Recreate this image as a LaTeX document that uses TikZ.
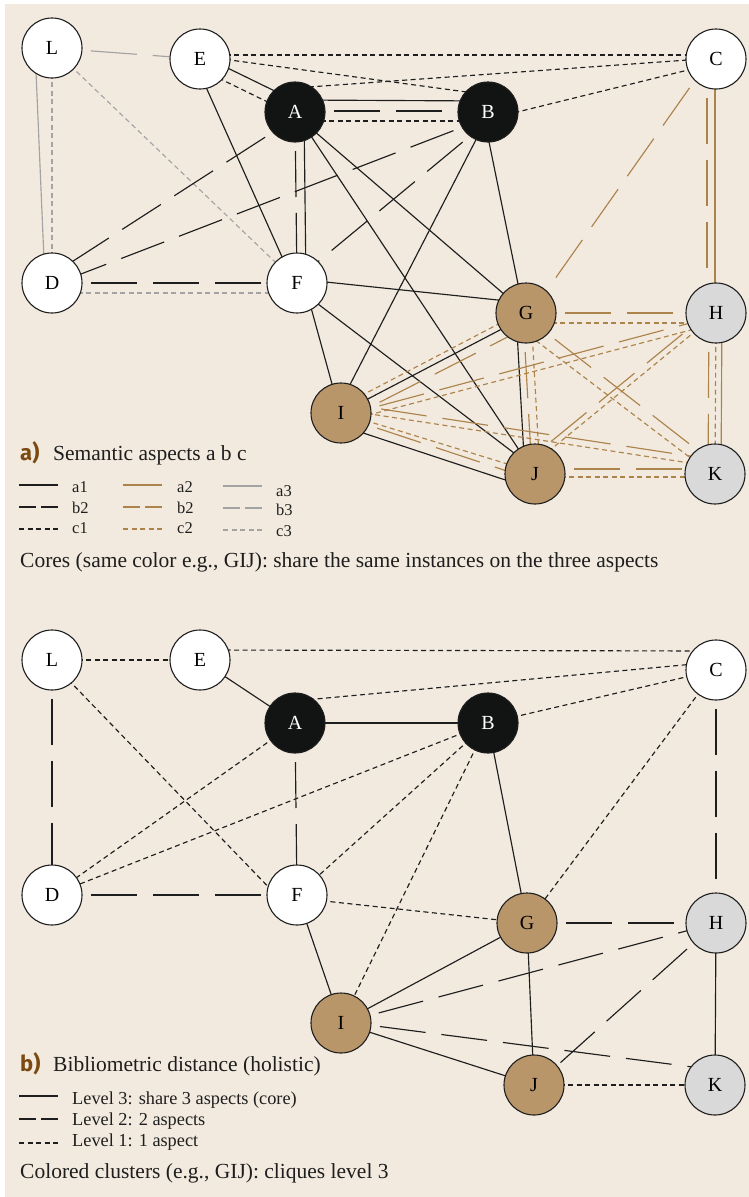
\documentclass[tikz,border=0pt]{standalone}
\usepackage{fontspec}
\setmainfont{Liberation Serif}
\newfontfamily\labfont{Fira Sans}
\usetikzlibrary{calc}
\pgfdeclarelayer{bg}\pgfdeclarelayer{edges}
\pgfsetlayers{bg,edges,main}
\definecolor{beige}{HTML}{F2EADF}
\definecolor{brn}{HTML}{AD834C}
\definecolor{brnfill}{HTML}{B9956A}
\definecolor{gryln}{HTML}{A3A3A3}
\definecolor{gryfill}{HTML}{D9D9D9}
\definecolor{nodeblk}{HTML}{121414}
\definecolor{lblbrown}{HTML}{7B4A12}
\definecolor{inkc}{HTML}{1E1E1E}
\newcommand\pedge[5]{\draw[#1] ($(#2)!#4!90:(#3)$) -- ($(#3)!#5!-90:(#2)$);}
\tikzset{
 nd/.style={circle, minimum size=60pt, inner sep=0pt, draw=inkc, line width=1.1pt, font=\fontsize{20}{22}\selectfont},
 wn/.style={nd, fill=white},
 kn/.style={nd, fill=nodeblk, text=white},
 bn/.style={nd, fill=brnfill},
 gn/.style={nd, fill=gryfill},
 ln/.style={line width=1.15pt},
 plainln/.style={ln},
 longdash/.style={ln, dash pattern=on 46pt off 16pt, dash phase=23pt},
 shortdash/.style={ln, dash pattern=on 5pt off 3.5pt},
 blkA/.style={plainln, draw=inkc},
 blkB/.style={longdash, draw=inkc},
 blkC/.style={shortdash, draw=inkc},
 brnA/.style={plainln, draw=brn},
 brnB/.style={longdash, draw=brn},
 brnC/.style={shortdash, draw=brn},
 gryA/.style={plainln, draw=gryln},
 gryB/.style={longdash, draw=gryln},
 gryC/.style={shortdash, draw=gryln},
 lvThree/.style={blkA},
 lvTwo/.style={blkB},
 lvOne/.style={blkC},
 legB/.style={ln, dash pattern=on 17pt off 5pt},
 head/.style={anchor=base west, inner sep=0pt, font=\fontsize{21.5}{24}\selectfont, text=inkc},
 plab/.style={anchor=base west, inner sep=0pt, font=\labfont\bfseries\fontsize{22}{24}\selectfont, text=lblbrown},
 legsmall/.style={anchor=base west, inner sep=0pt, font=\fontsize{16.5}{18}\selectfont, text=inkc},
 legbig/.style={anchor=base west, inner sep=0pt, font=\fontsize{18.3}{20}\selectfont, text=inkc},
}
\begin{document}
\begin{tikzpicture}[x=1pt,y=-1pt]
\useasboundingbox (0,0) rectangle (749,1197);
\begin{pgfonlayer}{bg}
\fill[white] (0,0) rectangle (749,1197);
\fill[beige] (5,4) rectangle (749,1197);
\end{pgfonlayer}

% ---------------- top panel nodes
\node[wn] (tL) at (52,48) {L};
\node[wn] (tE) at (200,59) {E};
\node[kn] (tA) at (295,112) {A};
\node[kn] (tB) at (488,112) {B};
\node[wn] (tC) at (716,59) {C};
\node[wn] (tD) at (52,283) {D};
\node[wn] (tF) at (297,283) {F};
\node[bn] (tG) at (526,313) {G};
\node[gn] (tH) at (716,313) {H};
\node[bn] (tI) at (341,413) {I};
\node[bn] (tJ) at (535,474) {J};
\node[gn] (tK) at (715,474) {K};

\begin{pgfonlayer}{edges}
\pedge{gryB}{tL}{tE}{0pt}{0pt}
\pedge{gryA}{tL}{tD}{-17pt}{-7pt}
\pedge{gryC}{tL}{tD}{0pt}{0pt}
\pedge{gryC}{tL}{tF}{0pt}{0pt}
\pedge{gryC}{tD}{tF}{-10pt}{-10pt}
\pedge{blkB}{tD}{tF}{0pt}{0pt}
\pedge{blkC}{tE}{tC}{4pt}{4pt}
\pedge{blkC}{tE}{tB}{3pt}{17pt}
\pedge{blkC}{tA}{tC}{24pt}{1pt}
\pedge{blkC}{tB}{tC}{-7pt}{-4pt}
\pedge{blkA}{tE}{tA}{4pt}{10pt}
\pedge{blkC}{tE}{tA}{-9pt}{-3pt}
\pedge{blkA}{tA}{tB}{12pt}{11pt}
\pedge{blkB}{tA}{tB}{1pt}{1pt}
\pedge{blkC}{tA}{tB}{-9pt}{-9pt}
\pedge{blkA}{tE}{tF}{-6pt}{-3pt}
\pedge{blkB}{tA}{tF}{0pt}{0pt}
\pedge{blkA}{tA}{tF}{9pt}{9pt}
\pedge{blkB}{tA}{tD}{5pt}{-7pt}
\pedge{blkB}{tB}{tD}{5pt}{2pt}
\pedge{blkB}{tB}{tF}{7pt}{-3pt}
\pedge{blkA}{tA}{tG}{-2pt}{0pt}
\pedge{blkA}{tA}{tJ}{0pt}{0pt}
\pedge{blkA}{tB}{tG}{-5pt}{-2pt}
\pedge{blkA}{tB}{tI}{2pt}{-5pt}
\pedge{blkA}{tF}{tG}{4pt}{10pt}
\pedge{blkA}{tF}{tI}{7pt}{-1pt}
\pedge{blkA}{tF}{tJ}{-4pt}{4pt}
\pedge{blkA}{tG}{tJ}{-10pt}{-10pt}
\pedge{brnB}{tG}{tJ}{-3pt}{-3pt}
\pedge{brnC}{tG}{tJ}{5pt}{5pt}
\pedge{brnC}{tI}{tG}{6pt}{3pt}
\pedge{blkA}{tI}{tG}{0pt}{-3pt}
\pedge{brnB}{tI}{tG}{-8pt}{-13pt}
\pedge{brnC}{tI}{tJ}{0pt}{1.5pt}
\pedge{brnB}{tI}{tJ}{-3pt}{-6pt}
\pedge{blkA}{tI}{tJ}{-12pt}{-15pt}
\pedge{brnB}{tI}{tH}{-3pt}{-3pt}
\pedge{brnC}{tI}{tH}{-9pt}{-10pt}
\pedge{brnB}{tI}{tK}{10pt}{14pt}
\pedge{brnC}{tI}{tK}{3.5pt}{7pt}
\pedge{brnB}{tG}{tH}{0pt}{0pt}
\pedge{brnC}{tG}{tH}{-10pt}{-10pt}
\pedge{brnB}{tG}{tK}{-3pt}{8pt}
\pedge{brnC}{tG}{tK}{-16pt}{-2pt}
\pedge{brnB}{tH}{tJ}{-5pt}{-15pt}
\pedge{brnC}{tH}{tJ}{1pt}{-9pt}
\pedge{brnB}{tH}{tK}{-7pt}{-7pt}
\pedge{brnC}{tH}{tK}{0pt}{0pt}
\pedge{brnA}{tH}{tK}{6pt}{6pt}
\pedge{brnB}{tJ}{tK}{5pt}{5pt}
\pedge{brnC}{tJ}{tK}{-3pt}{-3pt}
\pedge{brnA}{tC}{tH}{-1pt}{-1pt}
\pedge{brnB}{tC}{tH}{-9pt}{-9pt}
\pedge{brnB}{tC}{tG}{-5pt}{4pt}
\end{pgfonlayer}

% ---------------- top legend
\node[plab] (alab) at (20,460) {a)};
\node[head] (ahead) at (53,460) {Semantic aspects a b c};
\draw[blkA] (19,485) -- (58,485);
\draw[legB, draw=inkc] (19,507) -- (58,507);
\draw[blkC] (19,529) -- (58,529);
\draw[brnA] (123,485) -- (162,485);
\draw[legB, draw=brn] (123,507) -- (162,507);
\draw[brnC] (123,529) -- (162,529);
\draw[gryA] (223,486) -- (262,486);
\draw[legB, draw=gryln] (223,508) -- (262,508);
\draw[gryC] (223,530) -- (262,530);
\node[legsmall] (la1) at (72,492) {a1};
\node[legsmall] (lb1) at (72,513) {b2};
\node[legsmall] (lc1) at (72,533) {c1};
\node[legsmall] (la2) at (177,492) {a2};
\node[legsmall] (lb2) at (177,513) {b2};
\node[legsmall] (lc2) at (177,533) {c2};
\node[legsmall] (la3) at (276,496) {a3};
\node[legsmall] (lb3) at (276,515) {b3};
\node[legsmall] (lc3) at (276,536) {c3};
\node[head] (acores) at (20,567) {Cores (same color e.g., GIJ): share the same instances on the three aspects};

% ---------------- bottom panel nodes
\node[wn] (bL) at (52,660) {L};
\node[wn] (bE) at (200,660) {E};
\node[kn] (bA) at (295,723) {A};
\node[kn] (bB) at (488,723) {B};
\node[wn] (bC) at (716,670) {C};
\node[wn] (bD) at (52,895) {D};
\node[wn] (bF) at (297,895) {F};
\node[bn] (bG) at (527,923) {G};
\node[gn] (bH) at (716,923) {H};
\node[bn] (bI) at (341,1023) {I};
\node[bn] (bJ) at (534,1085) {J};
\node[gn] (bK) at (715,1085) {K};

\begin{pgfonlayer}{edges}
\pedge{lvOne}{bL}{bE}{0pt}{0pt}
\pedge{lvTwo}{bL}{bD}{0pt}{0pt}
\pedge{lvOne}{bL}{bF}{-2pt}{-15pt}
\pedge{lvOne}{bE}{bC}{10pt}{19pt}
\pedge{lvThree}{bE}{bA}{0pt}{0pt}
\pedge{lvOne}{bA}{bC}{22pt}{8pt}
\pedge{lvThree}{bA}{bB}{0pt}{0pt}
\pedge{lvTwo}{bA}{bF}{0pt}{0pt}
\pedge{lvTwo}{bD}{bF}{0pt}{0pt}
\pedge{lvOne}{bA}{bD}{0pt}{0pt}
\pedge{lvOne}{bB}{bD}{0pt}{0pt}
\pedge{lvOne}{bB}{bF}{0pt}{0pt}
\pedge{lvOne}{bB}{bI}{0pt}{0pt}
\pedge{lvOne}{bB}{bC}{0pt}{0pt}
\pedge{lvThree}{bB}{bG}{0pt}{0pt}
\pedge{lvOne}{bC}{bG}{0pt}{0pt}
\pedge{lvTwo}{bC}{bH}{0pt}{0pt}
\pedge{lvOne}{bF}{bG}{-3pt}{0pt}
\pedge{lvThree}{bF}{bI}{0pt}{0pt}
\pedge{lvThree}{bG}{bI}{0pt}{0pt}
\pedge{lvTwo}{bG}{bH}{0pt}{0pt}
\pedge{lvThree}{bH}{bK}{0pt}{0pt}
\pedge{lvOne}{bJ}{bK}{0pt}{0pt}
\pedge{lvThree}{bG}{bJ}{0pt}{0pt}
\pedge{lvTwo}{bI}{bH}{0pt}{0pt}
\pedge{lvTwo}{bI}{bK}{1.5pt}{15pt}
\pedge{lvThree}{bI}{bJ}{0pt}{0pt}
\pedge{lvTwo}{bH}{bJ}{0pt}{1pt}
\end{pgfonlayer}

% ---------------- bottom legend
\node[plab] (blab) at (20,1071) {b)};
\node[head] (bhead) at (53,1071) {Bibliometric distance (holistic)};
\draw[blkA] (19,1096) -- (58,1096);
\draw[legB, draw=inkc] (19,1119) -- (58,1119);
\draw[blkC] (19,1143) -- (58,1143);
\node[legbig] (lv3) at (72,1104) {Level 3: share 3 aspects (core)};
\node[legbig] (lv2) at (72,1125) {Level 2: 2 aspects};
\node[legbig] (lv1) at (72,1146) {Level 1: 1 aspect};
\node[head] (bclus) at (20,1178) {Colored clusters (e.g., GIJ): cliques level 3};
\end{tikzpicture}
\end{document}
